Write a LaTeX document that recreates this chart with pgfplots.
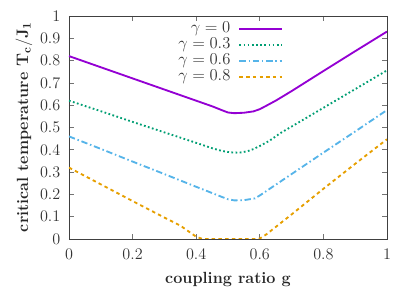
\documentclass[border=0pt]{standalone}
\usepackage{pgfplots}
\pgfplotsset{compat=1.18}
\definecolor{cA}{HTML}{9400D3}
\definecolor{cB}{HTML}{009E73}
\definecolor{cC}{HTML}{56B4E9}
\definecolor{cD}{HTML}{E69F00}
\begin{document}
\begin{tikzpicture}
\path[use as bounding box] (-59.7pt,-45pt) rectangle (300.3pt,206.8pt);
\begin{axis}[
  at={(0,0)}, anchor=south west,
  scale only axis, width=275.2pt, height=193pt,
  xmin=0, xmax=1, ymin=0, ymax=1,
  xtick={0,0.2,0.4,0.6,0.8,1},
  ytick={0,0.1,0.2,0.3,0.4,0.5,0.6,0.7,0.8,0.9,1},
  xticklabels={0,0.2,0.4,0.6,0.8,1},
  yticklabels={0,0.1,0.2,0.3,0.4,0.5,0.6,0.7,0.8,0.9,1},
  tick align=inside, tick pos=both, major tick length=4pt,
  axis line style={black!75, line width=0.6pt},
  every tick/.style={black!55, line width=0.6pt},
  tick label style={font=\fontsize{14}{16}\selectfont, text=black!80},
  xticklabel style={yshift=-4.8pt},
  yticklabel style={xshift=-4pt},
  xlabel={\fontsize{14}{16}\selectfont\bfseries coupling ratio g},
  ylabel={\fontsize{14}{16}\selectfont\bfseries critical temperature $\mathbf{T_c/J_1}$},
  xlabel style={at={(axis description cs:0.5,-0.181)}, anchor=center, text=black!85},
  ylabel style={at={(axis description cs:-0.1417,0.502)}, anchor=center, text=black!85},
  legend plot pos=right,
  legend cell align=right,
  legend image code/.code={\draw[#1] (0pt,0pt) -- (37pt,0pt);},
  legend style={draw=none, fill=none, at={(rel axis cs:0.674,0.975)}, anchor=north east,
    inner sep=0pt, row sep=0.8pt, column sep=6.5pt,
    font=\fontsize{14}{16}\selectfont,
    nodes={inner sep=0.5pt, text height=9pt, text depth=3pt, text=black!80}},
]
\addplot[cA, line width=1.6pt] coordinates {
(0,0.82) (0.1,0.77) (0.2,0.72) (0.3,0.67) (0.4,0.62) (0.45,0.595) (0.48,0.578)
(0.5,0.567) (0.52,0.564) (0.55,0.566) (0.58,0.572) (0.6,0.582) (0.62,0.597)
(0.65,0.62) (0.7,0.663) (0.8,0.753) (0.9,0.842) (1,0.93)};
\addlegendentry{$\gamma = 0$}
\addplot[cB, line width=1.6pt, dash pattern=on 1.5pt off 2.1pt] coordinates {
(0,0.62) (0.1,0.573) (0.2,0.525) (0.3,0.478) (0.4,0.431) (0.45,0.407) (0.48,0.395)
(0.5,0.39) (0.52,0.387) (0.54,0.388) (0.56,0.393) (0.58,0.403) (0.6,0.417)
(0.63,0.44) (0.664,0.474) (0.7,0.504) (0.8,0.588) (0.9,0.672) (1,0.756)};
\addlegendentry{$\gamma = 0.3$}
\addplot[cC, line width=1.6pt, dash pattern=on 5.5pt off 2.4pt on 1.3pt off 2.4pt] coordinates {
(0,0.46) (0.1,0.404) (0.2,0.347) (0.3,0.291) (0.4,0.234) (0.48,0.189) (0.5,0.178)
(0.52,0.173) (0.55,0.174) (0.585,0.182) (0.6,0.195) (0.7,0.291) (0.8,0.387)
(0.9,0.482) (1,0.578)};
\addlegendentry{$\gamma = 0.6$}
\addplot[cD, line width=1.6pt, dash pattern=on 3pt off 2.8pt] coordinates {
(0,0.32) (0.1,0.245) (0.2,0.17) (0.3,0.096) (0.35,0.06) (0.38,0.03) (0.4,0.01)
(0.42,0) (0.59,0) (0.6,0.002) (0.62,0.02) (0.7,0.11) (0.8,0.225) (0.9,0.337) (1,0.447)};
\addlegendentry{$\gamma = 0.8$}
\end{axis}
\end{tikzpicture}
\end{document}
